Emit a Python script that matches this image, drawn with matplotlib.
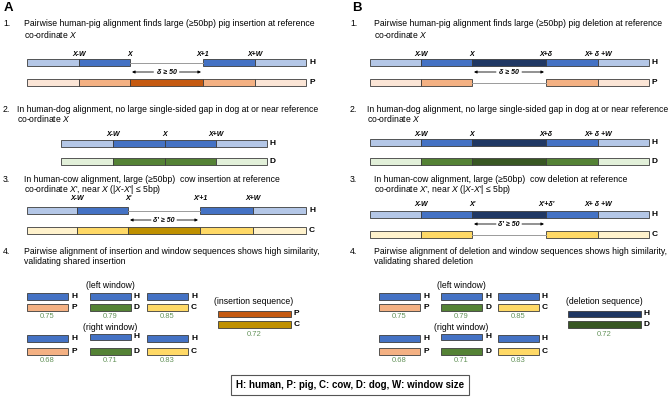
import matplotlib.pyplot as plt
from matplotlib.patches import Rectangle

plt.rcParams['font.family'] = ['Liberation Sans', 'DejaVu Sans']
plt.rcParams['mathtext.fontset'] = 'custom'
plt.rcParams['mathtext.rm'] = 'Liberation Sans'
plt.rcParams['mathtext.it'] = 'Liberation Sans:italic'
plt.rcParams['mathtext.bf'] = 'Liberation Sans:bold'

# colour ramps: lightest, mid, dark
human = ['#b4c7e7', '#4472c4', '#203864']
pig = ['#fbe5d6', '#f4b183', '#c55a11']
dog = ['#e2f0d9', '#548235', '#385723']
cow = ['#fff2cc', '#ffd966', '#bf9000']
sim_color = '#64935a'

# text of the steps
steps_A = [
    ("1.", "Pairwise human-pig alignment finds large (≥50bp) pig insertion at reference",
     r"co-ordinate $\mathit{X}$"),
    ("2.", "In human-dog alignment, no large single-sided gap in dog at or near reference",
     r"co-ordinate $\mathit{X}$"),
    ("3.", "In human-cow alignment, large (≥50bp)  cow insertion at reference",
     r"co-ordinate $\mathit{X}$', near $\mathit{X}$ (|$\mathit{X}$-$\mathit{X}$'| ≤ 5bp)"),
    ("4.", "Pairwise alignment of insertion and window sequences shows high similarity,",
     "validating shared insertion"),
]
steps_B = [
    ("1.", "Pairwise human-pig alignment finds large (≥50bp) pig deletion at reference",
     r"co-ordinate $\mathit{X}$"),
    ("2.", "In human-dog alignment, no large single-sided gap in dog at or near reference",
     r"co-ordinate $\mathit{X}$"),
    ("3.", "In human-cow alignment, large (≥50bp)  cow deletion at reference",
     r"co-ordinate $\mathit{X}$', near $\mathit{X}$ (|$\mathit{X}$-$\mathit{X}$'| ≤ 5bp)"),
    ("4.", "Pairwise alignment of deletion and window sequences shows high similarity,",
     "validating shared deletion"),
]

labels_A1 = ['X-W', 'X', 'X+1', 'X+W']
labels_A2 = ['X-W', 'X', 'X+W']
labels_A3 = ['X-W', "X'", "X'+1", 'X+W']
labels_B1 = ['X-W', 'X', 'X+δ', 'X+ δ +W']
labels_B3 = ['X-W', "X'", "X'+δ'", 'X+ δ +W']
gap_text = ['δ ≥ 50', "δ' ≥ 50"]

pair_species = ['P', 'D', 'C']
pair_colors = [pig[1], dog[1], cow[1]]
left_sim = [0.75, 0.79, 0.85]
right_sim = [0.68, 0.71, 0.83]
seq_sim = [0.72, 0.72]
legend_text = "H: human, P: pig, C: cow, D: dog, W: window size"

fig = plt.figure(figsize=(6.68, 4.05), dpi=100)
ax = fig.add_axes([0, 0, 1, 1])
ax.set_xlim(0, 668)
ax.set_ylim(405, 0)
ax.axis('off')

FS = 6.2
EDGE = '#3c3c3c'


def bar(edges, y, cols, letter, h=7):
    for x0, x1, c in zip(edges[:-1], edges[1:], cols):
        if c is None:
            ax.plot([x0, x1], [y + h / 2, y + h / 2], color='#9a9a9a', lw=0.7)
        else:
            ax.add_patch(Rectangle((x0, y), x1 - x0, h, facecolor=c,
                                   edgecolor=EDGE, lw=0.6))
    ax.text(edges[-1] + 3, y + h / 2, letter, fontsize=6, fontweight='bold',
            va='center', ha='left')


def pos_labels(xs, labels, y):
    for x, s in zip(xs, labels):
        ax.text(x, y, s, fontsize=5, fontweight='bold', style='italic',
                ha='center', va='center')


def gap_arrow(x0, x1, y, s):
    xm = (x0 + x1) / 2
    ax.text(xm, y, s, fontsize=5, fontweight='bold', style='italic',
            ha='center', va='center')
    kw = dict(arrowstyle='-|>', lw=0.6, color='k', mutation_scale=4,
              shrinkA=0, shrinkB=0)
    ax.annotate('', xy=(x0 + 2, y), xytext=(xm - 13, y), arrowprops=kw)
    ax.annotate('', xy=(x1 - 2, y), xytext=(xm + 13, y), arrowprops=kw)


def step_text(xn, xt, y, step, xt2=None):
    num, l1, l2 = step
    ax.text(xn, y, num, fontsize=FS, va='center', ha='left')
    ax.text(xt, y, l1, fontsize=FS, va='center', ha='left')
    ax.text(xt if xt2 is None else xt2, y + 10, l2, fontsize=FS,
            va='center', ha='left')


def window_block(xs, seq_x, top_h, seq_cols, seq_letters, seq_label, seq_val):
    w = 41
    ax.text(xs[1] + w / 2, 285, '(left window)', fontsize=FS, ha='center', va='center')
    ax.text(xs[1] + w / 2, 328, '(right window)', fontsize=FS, ha='center', va='center')
    for i, x in enumerate(xs):
        for ytop, ybot, yval, vals in [(293, 304, 316, left_sim), (335, 348, 361, right_sim)]:
            yt = ytop - (1.5 if (i == 1 and ytop == 335) else 0)
            bar([x, x + w], yt, [top_h], 'H', h=6.5)
            bar([x, x + w], ybot, [pair_colors[i]], pair_species[i], h=6.5)
            ax.text(x + w / 2, yval, f"{vals[i]:.2f}", fontsize=5.5,
                    color=sim_color, ha='center', va='center')
    ax.text(seq_x + 36, 301, seq_label, fontsize=FS, ha='center', va='center')
    bar([seq_x, seq_x + 73], 310.5, [seq_cols[0]], seq_letters[0], h=6.5)
    bar([seq_x, seq_x + 73], 321, [seq_cols[1]], seq_letters[1], h=6.5)
    ax.text(seq_x + 36, 334, f"{seq_val:.2f}", fontsize=5.5, color=sim_color,
            ha='center', va='center')


# ---------------- panel A ----------------
ax.text(4, 8, 'A', fontsize=9.5, fontweight='bold', va='center', ha='left')
step_text(3, 24, 24, steps_A[0])
e = [27, 79, 130, 203, 255, 306]
pos_labels(e[1:5], labels_A1, 55)
bar(e, 59, [human[0], human[1], None, human[1], human[0]], 'H')
gap_arrow(e[2], e[3], 72, gap_text[0])
bar(e, 79, [pig[0], pig[1], pig[2], pig[1], pig[0]], 'P')

step_text(3, 17, 109, steps_A[1])
e = [61, 113, 165, 216, 267]
pos_labels(e[1:4], labels_A2, 135)
bar(e, 140, [human[0], human[1], human[1], human[0]], 'H')
bar(e, 158, [dog[0], dog[1], dog[1], dog[0]], 'D')

step_text(3, 24, 180, steps_A[2])
e = [27, 77, 128, 200, 253, 306]
pos_labels(e[1:5], labels_A3, 199)
bar(e, 207, [human[0], human[1], None, human[1], human[0]], 'H')
gap_arrow(e[2], e[3], 220, gap_text[1])
bar(e, 227, [cow[0], cow[1], cow[2], cow[1], cow[0]], 'C')

step_text(3, 24, 251, steps_A[3])
window_block([27, 90, 147], 218, human[1], [pig[2], cow[2]], ['P', 'C'],
             '(insertion sequence)', seq_sim[0])

# ---------------- panel B ----------------
ax.text(352, 8, 'B', fontsize=9.5, fontweight='bold', va='center', ha='left')
e = [370, 421, 472, 546, 598, 649]
step_text(350, 374, 24, steps_B[0])
pos_labels(e[1:5], labels_B1, 55)
bar(e, 59, [human[0], human[1], human[2], human[1], human[0]], 'H')
gap_arrow(e[2], e[3], 72, gap_text[0])
bar(e, 79, [pig[0], pig[1], None, pig[1], pig[0]], 'P')

step_text(350, 367, 109, steps_B[1])
pos_labels(e[1:5], labels_B1, 134)
bar(e, 139, [human[0], human[1], human[2], human[1], human[0]], 'H')
bar(e, 158, [dog[0], dog[1], dog[2], dog[1], dog[0]], 'D')

step_text(350, 374, 180, steps_B[2])
pos_labels(e[1:5], labels_B3, 204)
bar(e, 211, [human[0], human[1], human[2], human[1], human[0]], 'H')
gap_arrow(e[2], e[3], 224, gap_text[1])
bar(e, 231, [cow[0], cow[1], None, cow[1], cow[0]], 'C')

step_text(350, 374, 251, steps_B[3])
window_block([379, 441, 498], 568, human[1], [human[2], dog[2]], ['H', 'D'],
             '(deletion sequence)', seq_sim[1])

# legend box
ax.text(350, 385, legend_text, fontsize=7, fontweight='bold', ha='center', va='center',
        bbox=dict(boxstyle='square,pad=0.55', facecolor='white', edgecolor='#555555', lw=0.8))

fig.savefig('out.png', dpi=100)
